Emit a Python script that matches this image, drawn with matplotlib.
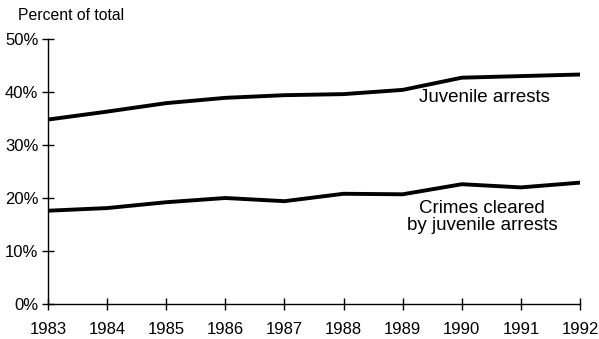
import matplotlib
matplotlib.use("Agg")
import matplotlib.pyplot as plt

years = [1983, 1984, 1985, 1986, 1987, 1988, 1989, 1990, 1991, 1992]
juvenile_arrests = [34.8, 36.3, 37.9, 38.9, 39.4, 39.6, 40.4, 42.7, 43.0, 43.3]
crimes_cleared = [17.6, 18.1, 19.2, 20.0, 19.4, 20.8, 20.7, 22.6, 22.0, 22.9]
y_ticks = [0, 10, 20, 30, 40, 50]
y_tick_labels = ["0%", "10%", "20%", "30%", "40%", "50%"]

plt.rcParams["font.family"] = ["Liberation Sans", "DejaVu Sans"]

fig = plt.figure(figsize=(5.99, 3.39), dpi=100)
ax = fig.add_axes([48 / 599, 35 / 339, 532 / 599, 265 / 339])

ax.plot(years, juvenile_arrests, color="black", lw=2.8, solid_capstyle="butt",
        solid_joinstyle="round")
ax.plot(years, crimes_cleared, color="black", lw=2.8, solid_capstyle="butt",
        solid_joinstyle="round")

ax.set_xlim(1983, 1992)
ax.set_ylim(0, 50)
ax.set_xticks(years)
ax.set_xticklabels([str(y) for y in years])
ax.set_yticks(y_ticks)
ax.set_yticklabels(y_tick_labels)

for side in ("top", "right"):
    ax.spines[side].set_visible(False)
for side in ("left", "bottom"):
    ax.spines[side].set_linewidth(1.0)
    ax.spines[side].set_color("black")

ax.tick_params(axis="both", direction="inout", length=8, width=1.0,
               colors="black", labelsize=12)
ax.tick_params(axis="x", pad=9)
ax.tick_params(axis="y", pad=3)

ax.text(1990.39, 39.0, "Juvenile arrests", ha="center", va="center", fontsize=13.5)
ax.text(1990.34, 16.4, "Crimes cleared\nby juvenile arrests", ha="center",
        va="center", fontsize=13.5, linespacing=1.05)

fig.text(18 / 599, 1 - 16 / 339, "Percent of total", ha="left", va="center",
         fontsize=11.3)

fig.savefig("out.png", dpi=100)
